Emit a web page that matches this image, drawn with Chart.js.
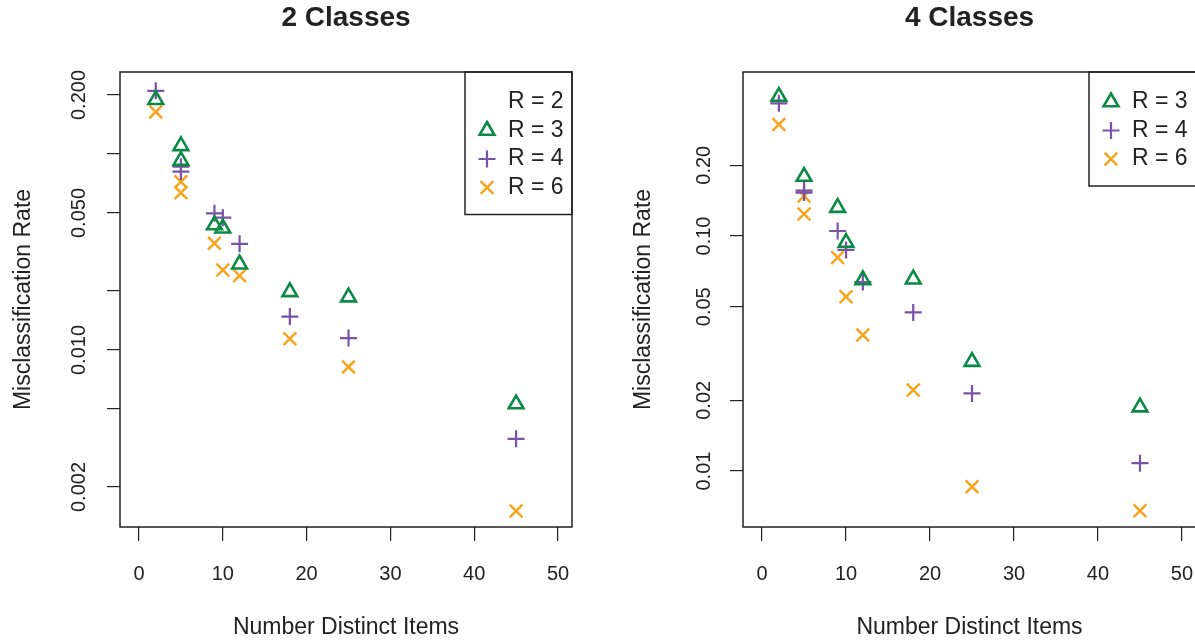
<!DOCTYPE html>
<html>
<head>
<meta charset="utf-8">
<script src="https://cdn.jsdelivr.net/npm/chart.js@4.4.1/dist/chart.umd.min.js"></script>
<style>
  html, body { margin: 0; padding: 0; background: #fff; overflow: hidden; }
  #wrap { position: relative; width: 1195px; height: 643px; overflow: hidden; }
  canvas { position: absolute; top: 0; }
</style>
</head>
<body>
<div id="wrap">
  <canvas id="twoChart" width="597" height="643" style="left:0"></canvas>
  <canvas id="fourChart" width="600" height="643" style="left:597px"></canvas>
</div>
<script>
// number of distinct items (x) - shared by both panels
const items = [2, 5, 5, 9, 10, 12, 18, 25, 45];

// 2 classes: misclassification rate per R
const twoR3 = [0.189, 0.110, 0.0925, 0.0434, 0.0418, 0.0274, 0.0198, 0.0186, 0.0053];
const twoR4 = [0.210, 0.0861, 0.0813, 0.0498, 0.0473, 0.0348, 0.0148, 0.0115, 0.00352];
const twoR6 = [0.164, 0.0722, 0.0635, 0.0350, 0.0256, 0.0239, 0.0114, 0.0082, 0.00151];
const twoLegend = ['R = 2', 'R = 3', 'R = 4', 'R = 6'];
const twoTickVals = [0.002, 0.005, 0.01, 0.02, 0.05, 0.1, 0.2];
const twoTickText = ['0.002', '', '0.010', '', '0.050', '', '0.200'];

// 4 classes
const fourR3 = [0.392, 0.179, null, 0.132, 0.0937, 0.065, 0.0655, 0.0292, 0.0187];
const fourR4 = [0.367, 0.156, 0.153, 0.105, 0.0872, 0.0637, 0.0473, 0.0214, 0.0108];
const fourR6 = [0.298, 0.148, 0.124, 0.081, 0.0552, 0.0379, 0.0221, 0.00857, 0.00678];
const fourLegend = ['R = 3', 'R = 4', 'R = 6'];
const fourTickVals = [0.01, 0.02, 0.05, 0.1, 0.2];
const fourTickText = ['0.01', '0.02', '0.05', '0.10', '0.20'];

const xTicks = [0, 10, 20, 30, 40, 50];

const family = '"Liberation Sans", Arial, Helvetica, sans-serif';
const ink = '#222';
Chart.defaults.font.family = family;
Chart.defaults.color = ink;

function pts(ys) {
  return items.map((x, i) => ({ x: x, y: ys[i] })).filter(p => p.y != null);
}

function series(r3, r4, r6) {
  return [
    { label: 'R = 3', data: pts(r3), pointStyle: 'triangle', pointRadius: 8.5,
      borderColor: '#0b8a45', backgroundColor: 'rgba(0,0,0,0)', borderWidth: 2.6 },
    { label: 'R = 4', data: pts(r4), pointStyle: 'cross', pointRadius: 8.5,
      borderColor: '#7a52a6', backgroundColor: 'rgba(0,0,0,0)', borderWidth: 2.2 },
    { label: 'R = 6', data: pts(r6), pointStyle: 'crossRot', pointRadius: 9,
      borderColor: '#f8a41c', backgroundColor: 'rgba(0,0,0,0)', borderWidth: 2.5 }
  ];
}

// box round the plot, panel title and the in-plot legend
const panelDecor = {
  id: 'panelDecor',
  afterDraw(chart, args, opts) {
    const { ctx, chartArea: a } = chart;
    ctx.save();
    ctx.strokeStyle = ink;
    ctx.lineWidth = 1.5;
    ctx.strokeRect(a.left, a.top, a.right - a.left, a.bottom - a.top);

    ctx.fillStyle = ink;
    ctx.font = 'bold 28px ' + family;
    ctx.textAlign = 'center';
    ctx.textBaseline = 'middle';
    ctx.fillText(opts.title, (a.left + a.right) / 2, 18);

    const n = opts.legend.length;
    const bx = a.right - 107;
    const bh = 30 + (n - 1) * 28.5 + 27;
    ctx.strokeRect(bx, a.top, a.right - bx, bh);
    ctx.font = '23px ' + family;
    ctx.textAlign = 'left';
    opts.legend.forEach((lab, i) => {
      const y = a.top + 30 + i * 28.5;
      ctx.fillStyle = ink;
      ctx.fillText(lab, bx + 43, y);
      const ds = chart.data.datasets.find(d => d.label === lab);
      if (ds) {
        ctx.strokeStyle = ds.borderColor;
        ctx.fillStyle = 'rgba(0,0,0,0)';
        ctx.lineWidth = ds.borderWidth;
        Chart.helpers.drawPoint(ctx, { pointStyle: ds.pointStyle, radius: ds.pointRadius,
          borderWidth: ds.borderWidth, rotation: 0 }, bx + 22, y);
      }
    });
    ctx.restore();
  }
};

function makeChart(id, cfg) {
  return new Chart(document.getElementById(id), {
    type: 'scatter',
    data: { datasets: series(cfg.r3, cfg.r4, cfg.r6) },
    plugins: [panelDecor],
    options: {
      responsive: false,
      animation: false,
      layout: { autoPadding: false, padding: { top: 72, right: cfg.padRight, bottom: 0, left: 0 } },
      plugins: {
        legend: { display: false },
        tooltip: { enabled: false },
        panelDecor: { title: cfg.title, legend: cfg.legend }
      },
      scales: {
        x: {
          type: 'linear', min: -2.27, max: 51.67, bounds: 'data',
          afterBuildTicks: s => { s.ticks = xTicks.map(v => ({ value: v })); },
          afterFit: s => { s.height = 116; s.paddingLeft = 0; s.paddingRight = 0; },
          grid: { drawOnChartArea: false, tickLength: 14, color: ink, lineWidth: 1.2 },
          border: { display: false },
          ticks: { font: { size: 20 }, padding: 21, maxRotation: 0, autoSkip: false, color: ink },
          title: { display: true, text: 'Number Distinct Items', font: { size: 23 },
                   padding: { top: 0, bottom: 2 }, color: ink }
        },
        y: {
          type: 'logarithmic', min: cfg.yMin, max: cfg.yMax, bounds: 'data',
          afterBuildTicks: s => { s.ticks = cfg.tickVals.map(v => ({ value: v })); },
          afterFit: s => { s.width = cfg.axisWidth; s.paddingTop = 0; s.paddingBottom = 0; },
          grid: { drawOnChartArea: false, tickLength: 13, color: ink, lineWidth: 1.2 },
          border: { display: false },
          ticks: {
            callback: (v, i) => cfg.tickText[i],
            font: { size: 20 }, minRotation: 90, maxRotation: 90, crossAlign: 'center',
            padding: cfg.tickPad, autoSkip: false, color: ink
          },
          title: { display: true, text: 'Misclassification Rate', font: { size: 23 },
                   padding: { top: cfg.titlePad, bottom: 0 }, color: ink }
        }
      }
    }
  });
}

makeChart('twoChart', {
  title: '2 Classes', legend: twoLegend, r3: twoR3, r4: twoR4, r6: twoR6,
  yMin: 0.00125, yMax: 0.262, tickVals: twoTickVals, tickText: twoTickText,
  axisWidth: 120, tickPad: 2.5, titlePad: 10, padRight: 25
});

makeChart('fourChart', {
  title: '4 Classes', legend: fourLegend, r3: fourR3, r4: fourR4, r6: fourR6,
  yMin: 0.00578, yMax: 0.4986, tickVals: fourTickVals, tickText: fourTickText,
  axisWidth: 146, tickPad: 6.5, titlePad: 33, padRight: 1
});
</script>
</body>
</html>
